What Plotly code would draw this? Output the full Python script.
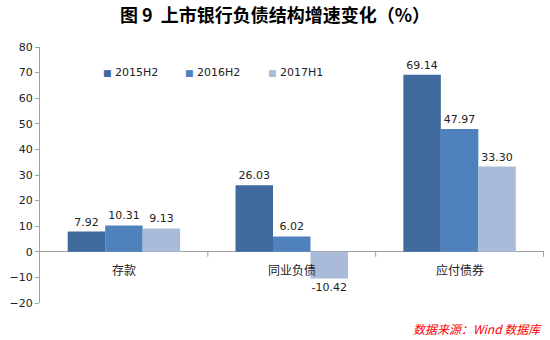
import plotly.graph_objects as go

categories = ["存款", "同业负债", "应付债券"]
series_names = ["2015H2", "2016H2", "2017H1"]
v2015h2 = [7.92, 26.03, 69.14]
v2016h2 = [10.31, 6.02, 47.97]
v2017h1 = [9.13, -10.42, 33.30]
colors = ["#3F6A9E", "#4F81BD", "#A9BBD9"]
y_ticks = list(range(-20, 81, 10))

font_lat = "DejaVu Sans, Noto Sans CJK SC"
fig = go.Figure()
for name, vals, c in zip(series_names, [v2015h2, v2016h2, v2017h1], colors):
    fig.add_trace(go.Bar(
        x=categories, y=vals, name=name, marker=dict(color=c, line=dict(width=0)),
        text=[f"{v:.2f}" for v in vals], textposition="outside",
        textfont=dict(size=11, color="#222", family=font_lat),
        cliponaxis=False,
    ))

W, H = 550, 340
ml, mr, mt, mb = 40, 6, 47, 37
pw, ph = W - ml - mr, H - mt - mb

fig.update_layout(
    width=W, height=H,
    margin=dict(l=ml, r=mr, t=mt, b=mb),
    paper_bgcolor="white", plot_bgcolor="white",
    barmode="group", bargap=0.33, bargroupgap=0,
    showlegend=False,
    title=dict(text="<b>图 9  上市银行负债结构增速变化（%）</b>", x=0.5, xanchor="center",
               y=0.955, yanchor="middle",
               font=dict(size=18, color="black", family="Noto Sans CJK SC")),
    xaxis=dict(showticklabels=False, showline=False, ticks="", showgrid=False, zeroline=False),
    yaxis=dict(range=[-20, 80], tickvals=y_ticks, showgrid=False, zeroline=True,
               zerolinecolor="#A0A0A0", zerolinewidth=1,
               showline=True, linecolor="#A0A0A0", linewidth=1,
               ticks="outside", ticklen=4, tickcolor="#A0A0A0",
               tickfont=dict(size=11, family=font_lat, color="#222")),
)

# custom legend (small squares)
leg_x = [101, 183, 266]
leg_y = 72
for name, c, lx in zip(series_names, colors, leg_x):
    xp = (lx - ml) / pw
    yp = (H - mb - leg_y) / ph
    fig.add_annotation(xref="paper", yref="paper", x=xp, y=yp, xanchor="left", yanchor="middle",
                       text=f"<span style='color:{c};font-size:9px'>■</span> {name}", showarrow=False,
                       font=dict(size=11, family=font_lat, color="#222"))

for c in categories:
    fig.add_annotation(x=c, y=0, text=c, showarrow=False, yshift=-18,
                       font=dict(size=12, family="Noto Sans CJK SC", color="#222"))

for xb in [0.5, 1.5, 2.5]:
    fig.add_shape(type="line", xref="x", yref="y", xsizemode="scaled",
                  ysizemode="pixel", yanchor=0, x0=xb, x1=xb, y0=0, y1=-5,
                  line=dict(color="#A0A0A0", width=1))

fig.add_annotation(xref="paper", yref="paper", x=1.0, y=-0.1, xanchor="right", yanchor="middle",
                   text="<i>数据来源：Wind 数据库</i>", showarrow=False,
                   font=dict(size=12, color="#FF0000", family="Noto Sans CJK SC"))

fig.write_html("out.html")
